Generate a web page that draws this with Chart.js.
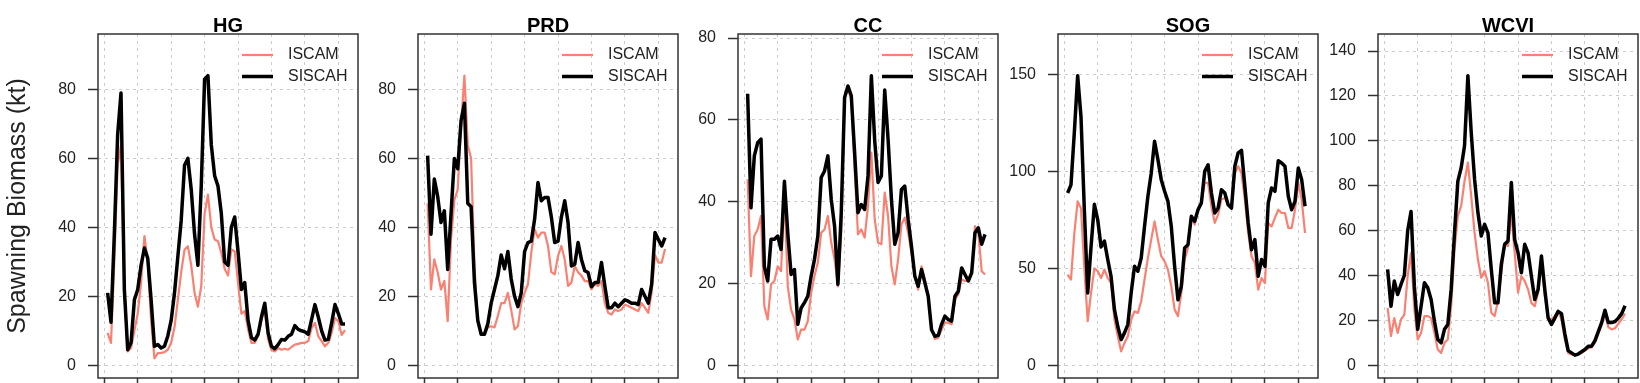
<!DOCTYPE html>
<html>
<head>
<meta charset="utf-8">
<title>Spawning biomass, ISCAM vs SISCAH</title>
<script src="https://cdn.jsdelivr.net/npm/chart.js@4.4.1/dist/chart.umd.min.js"></script>
<style>
    html, body { margin: 0; padding: 0; background: #fff; overflow: hidden; }
    #wrap { position: relative; width: 1640px; height: 383px; }
    #wrap canvas { position: absolute; top: 0; }
</style>
</head>
<body>
<div id="wrap">
    <canvas id="hg" width="360" height="383" style="left:0px"></canvas>
    <canvas id="prd" width="320" height="383" style="left:360px"></canvas>
    <canvas id="cc" width="320" height="383" style="left:680px"></canvas>
    <canvas id="sog" width="320" height="383" style="left:1000px"></canvas>
    <canvas id="wcvi" width="320" height="383" style="left:1320px"></canvas>
</div>
<script>
// Years on the x axis
const years = [1951, 1952, 1953, 1954, 1955, 1956, 1957, 1958, 1959, 1960,
    1961, 1962, 1963, 1964, 1965, 1966, 1967, 1968, 1969, 1970,
    1971, 1972, 1973, 1974, 1975, 1976, 1977, 1978, 1979, 1980,
    1981, 1982, 1983, 1984, 1985, 1986, 1987, 1988, 1989, 1990,
    1991, 1992, 1993, 1994, 1995, 1996, 1997, 1998, 1999, 2000,
    2001, 2002, 2003, 2004, 2005, 2006, 2007, 2008, 2009, 2010,
    2011, 2012, 2013, 2014, 2015, 2016, 2017, 2018, 2019, 2020,
    2021, 2022];
const xRange = [1951, 2023];
const xTicks = [1950, 1960, 1970, 1980, 1990, 2000, 2010, 2020];

// Spawning biomass (kt) by stock area
const hgIscam = [9.4, 6.5, 30, 58, 64, 21, 4, 5, 10, 15,
    24, 37.5, 30, 13, 2, 3.5, 3.6, 3.8, 4.5, 6.5,
    11, 19, 27, 33.5, 34.5, 29, 21, 17, 23, 44,
    49.5, 40, 36.5, 36, 32.6, 28, 26, 33.6, 33, 24,
    15, 15.7, 10.4, 6.5, 6.5, 8.4, 13.3, 16, 7.5, 4.4,
    4, 5, 4.5, 4.8, 4.5, 5.3, 6, 6.2, 6.5, 6.5,
    7, 10.8, 12.3, 8.4, 7, 5.5, 6.5, 9.4, 13.7, 12.7,
    8.8, 10.2];
const hgSiscah = [21, 12.5, 38, 67, 79, 22, 4.5, 6.5, 19, 22,
    29, 34, 31, 19, 5.5, 6, 5, 5.5, 8.5, 13,
    21, 31.5, 42, 58, 60, 51, 38, 29, 52, 83,
    84, 64, 55, 52, 44, 30, 29, 40, 43, 33,
    22, 24, 13, 8, 7.3, 9, 14, 18, 9.4, 5.5,
    4.8, 6, 7.5, 7.3, 8.4, 9, 11.5, 10.4, 10, 9.7,
    9, 13.3, 17.6, 14, 10, 7.3, 7.5, 12.3, 17.6, 15,
    12, 12];

const prdIscam = [47, 22, 30.7, 27, 22, 24.5, 12.8, 36.5, 48, 51,
    69.5, 84, 64, 60, 29, 12.3, 9.4, 9, 11, 11.3,
    11, 14.3, 18, 18, 21, 16, 10.4, 11.3, 18, 21,
    23.5, 32.7, 39.5, 37, 38.5, 38.5, 34.6, 27, 26.4, 31.7,
    34.6, 30.7, 23, 24, 28.8, 27, 26, 24.4, 24.4, 22,
    23.5, 23, 24.4, 18, 15.2, 14.7, 16.2, 15.7, 16.2, 17.6,
    17.2, 16.7, 16.2, 15.7, 18, 16.7, 15.2, 21, 32, 29.8,
    29.8, 33.7];
const prdSiscah = [60.8, 38, 54, 49, 41.4, 44.8, 27.8, 44, 60, 57,
    71, 76, 47, 46, 24, 13, 9, 9, 12, 18,
    22, 26, 32, 28, 33, 25, 20, 17, 21, 33,
    35.6, 36, 42.4, 53, 47.7, 48.7, 48.7, 43, 35.6, 36,
    43, 47.7, 41.4, 28.8, 29.3, 35.6, 30.7, 27.4, 26.9, 22.8,
    24, 24, 29.8, 23, 16.7, 16.7, 18, 17, 18, 19,
    18.6, 18, 18, 17.6, 22, 20, 18, 23.5, 38.5, 36.5,
    34.6, 37];

const ccIscam = [45.5, 21.8, 31.6, 33.2, 36.5, 14.4, 11.2, 19.8, 20.6, 24.2,
    23, 42.2, 19.3, 13.6, 11.2, 6.3, 8.7, 8.7, 10.8, 17.7,
    21.8, 25.1, 32.4, 33.2, 36.5, 30, 25.9, 19.3, 32.4, 65,
    67.5, 65, 47.9, 32, 33.2, 31.2, 38.9, 52, 35.7, 30,
    29.6, 42.2, 36.5, 24.2, 19.8, 25.9, 34.4, 36.1, 32.4, 27.4,
    21.8, 18.5, 24.2, 21, 16.9, 9.1, 6.4, 6.7, 8.7, 10.4,
    10.4, 10, 16.1, 17.3, 21, 20.6, 20.6, 22.6, 34, 32.4,
    23, 22.2];
const ccSiscah = [66.4, 38.5, 51.2, 54.4, 55.3, 24.2, 20.6, 30.8, 30.8, 31.6,
    28.3, 45, 32.4, 22.2, 23.4, 10, 14, 15.3, 16.9, 21.8,
    25.9, 31.6, 45.9, 47.5, 51.2, 40.6, 34, 19.8, 37.3, 65.5,
    68.3, 65.9, 52, 37.3, 39.3, 38.1, 46.3, 70.8, 55, 44.7,
    46.3, 67.3, 55.3, 40.6, 29.6, 32.4, 43, 43.8, 35.7, 29.1,
    21.8, 19.3, 23.4, 20.2, 16.9, 8.7, 7.1, 7.3, 10, 12,
    11.2, 10.8, 16.9, 18.1, 23.8, 22.2, 20.6, 22.6, 32.4, 33.6,
    29.6, 32];

const sogIscam = [46.7, 44.2, 68, 84.5, 81, 50, 22.7, 37.3, 50, 48.5,
    45, 49.3, 45, 42.4, 23.5, 15, 7.2, 11.5, 15, 23.5,
    27.8, 27, 33, 44.2, 55.3, 64.8, 74.2, 64.8, 56.2, 53.6,
    49.3, 40.7, 28.7, 25.3, 37.3, 54.5, 60.5, 76.8, 72.5, 81,
    83.7, 94, 94, 82, 73.4, 77.7, 85.4, 86.3, 82.8, 81,
    99, 102.6, 99, 85.4, 68.2, 56.2, 52.7, 39, 45, 42.4,
    73.4, 71.6, 76, 80.2, 78.5, 78.5, 70.8, 70.8, 80.2, 94,
    85.4, 68.2];
const sogSiscah = [88.8, 93, 120, 149.3, 128, 80, 37.3, 61, 83, 75,
    61, 64, 54.5, 45.7, 28.7, 20, 13.2, 16.7, 21, 37.3,
    51, 48.5, 55.3, 71.6, 87, 99, 115.5, 106, 95.7, 89.7,
    84.5, 71.6, 51, 33.8, 40.7, 60.5, 62.2, 76.8, 74.2, 80.2,
    83.7, 100, 103.4, 88.8, 78.5, 81, 90.5, 88.8, 82.8, 81,
    102.6, 109.5, 110.8, 92.3, 73.4, 59.6, 64.8, 45.9, 54.5, 51,
    83.7, 91.4, 89.7, 105.5, 104.3, 102.6, 87.1, 80.2, 84.5, 101.7,
    95.7, 82];

const wcviIscam = [25.6, 13, 21, 14.4, 20.4, 22.6, 40, 50, 25, 11.5,
    14.4, 21.9, 21.9, 21.1, 14.4, 7, 5.5, 10, 11.5, 26.3,
    51.6, 66.5, 71, 82, 90.3, 75.4, 59, 47.2, 39, 42,
    36.8, 23.4, 21.9, 28.6, 41.2, 53.9, 53.1, 68, 50.1, 32.3,
    39.7, 37.5, 33.8, 27.8, 26.3, 32.3, 45.7, 30.8, 21.1, 20.4,
    21.9, 24.1, 20.4, 11.5, 5.5, 4.8, 4.5, 5, 5.5, 6.5,
    7.5, 8, 10, 14, 18, 23, 17, 16, 16.5, 18.5,
    20.5, 23];
const wcviSiscah = [42.7, 26.3, 37.5, 31.5, 36, 40, 60, 68.5, 35, 16,
    26.3, 36.8, 34.5, 29.3, 19.6, 11.5, 10, 16, 18.2, 33.8,
    59, 82, 88, 97.8, 129, 103.7, 82.9, 68, 57.6, 62.8,
    59, 42.7, 27.8, 27.8, 45, 53.9, 55.4, 81.4, 56, 50.1,
    41.2, 53.9, 50.1, 39.7, 29.3, 33.8, 48.7, 33.8, 21.1, 18.2,
    21, 24, 23, 14, 6.5, 5.5, 4.5, 5, 6, 7,
    8.5, 8.5, 11, 15, 19, 24.5, 19, 19, 19.5, 21,
    23, 26.5];

// y axis tick labels per panel
const hgTicks = [0, 20, 40, 60, 80];
const prdTicks = [0, 20, 40, 60, 80];
const ccTicks = [0, 20, 40, 60, 80];
const sogTicks = [0, 50, 100, 150];
const wcviTicks = [0, 20, 40, 60, 80, 100, 120, 140];

const FONT = '"Liberation Sans", Arial, Helvetica, sans-serif';

// R-style box round the plot and a legend with no frame
const boxAndLegend = {
    id: 'boxAndLegend',
    afterDraw(chart) {
        const ctx = chart.ctx;
        const a = chart.chartArea;
        ctx.save();
        ctx.font = '16px ' + FONT;
        ctx.textBaseline = 'middle';
        ctx.textAlign = 'left';
        chart.data.datasets.forEach((ds, i) => {
            const y = a.top + 21 + i * 21.5;
            ctx.strokeStyle = ds.borderColor;
            ctx.lineWidth = ds.borderWidth;
            ctx.beginPath();
            ctx.moveTo(a.right - 116, y);
            ctx.lineTo(a.right - 85, y);
            ctx.stroke();
            ctx.fillStyle = '#222';
            ctx.fillText(ds.label, a.right - 70, y);
        });
        ctx.strokeStyle = '#333';
        ctx.lineWidth = 1.5;
        ctx.strokeRect(a.left, a.top, a.right - a.left, a.bottom - a.top);
        ctx.restore();
    }
};

function points(values) {
    return years.map((yr, i) => ({ x: yr, y: values[i] }));
}

function makePanel(id, name, iscam, siscah, yTicks, first) {
    // same limits R would use: ylim = c(0, 1.1 * max), plus the 4% axis padding
    const yTop = 1.1 * Math.max(...iscam, ...siscah);
    const yPad = 0.04 * yTop;
    const xPad = 0.04 * (xRange[1] - xRange[0]);

    const gridOpts = {
        color: '#cccccc',
        lineWidth: 1,
        borderDash: [3, 4],
        tickColor: '#333',
        tickWidth: 1.5,
        tickLength: 10,
        tickBorderDash: []
    };

    new Chart(document.getElementById(id), {
        type: 'line',
        data: {
            datasets: [
                {
                    label: 'ISCAM',
                    data: points(iscam),
                    borderColor: '#FA8072',
                    borderWidth: 2.2,
                    pointRadius: 0,
                    tension: 0,
                    borderJoinStyle: 'round',
                    order: 2
                },
                {
                    label: 'SISCAH',
                    data: points(siscah),
                    borderColor: '#000000',
                    borderWidth: 3.5,
                    pointRadius: 0,
                    tension: 0,
                    borderJoinStyle: 'round',
                    order: 1
                }
            ]
        },
        options: {
            responsive: false,
            animation: false,
            events: [],
            layout: { padding: { top: 0, right: 2, bottom: 0, left: 0 } },
            plugins: {
                legend: { display: false },
                tooltip: { enabled: false },
                title: {
                    display: true,
                    text: name,
                    fullSize: false,
                    color: '#000',
                    font: { family: FONT, size: 20, weight: 'bold', lineHeight: 0.8 },
                    padding: { top: 18, bottom: 0 }
                }
            },
            scales: {
                x: {
                    type: 'linear',
                    min: xRange[0] - xPad,
                    max: xRange[1] + xPad,
                    afterBuildTicks: s => { s.ticks = xTicks.map(v => ({ value: v })); },
                    afterFit: s => { s.height = 5; s.paddingLeft = 0; s.paddingRight = 0; },
                    ticks: { display: false },
                    grid: gridOpts,
                    border: { display: false, dash: [3, 4] }
                },
                y: {
                    type: 'linear',
                    min: -yPad,
                    max: yTop + yPad,
                    afterBuildTicks: s => { s.ticks = yTicks.map(v => ({ value: v })); },
                    afterFit: s => { s.width = first ? 98 : 58; s.paddingTop = 0; s.paddingBottom = 0; },
                    ticks: {
                        padding: 12,
                        color: '#222',
                        font: { family: FONT, size: 16 }
                    },
                    grid: gridOpts,
                    border: { display: false, dash: [3, 4] },
                    title: {
                        display: first,
                        text: 'Spawning Biomass (kt)',
                        color: '#222',
                        font: { family: FONT, size: 25 },
                        padding: { top: 3, bottom: 0 }
                    }
                }
            }
        },
        plugins: [boxAndLegend]
    });
}

makePanel('hg', 'HG', hgIscam, hgSiscah, hgTicks, true);
makePanel('prd', 'PRD', prdIscam, prdSiscah, prdTicks, false);
makePanel('cc', 'CC', ccIscam, ccSiscah, ccTicks, false);
makePanel('sog', 'SOG', sogIscam, sogSiscah, sogTicks, false);
makePanel('wcvi', 'WCVI', wcviIscam, wcviSiscah, wcviTicks, false);
</script>
</body>
</html>
